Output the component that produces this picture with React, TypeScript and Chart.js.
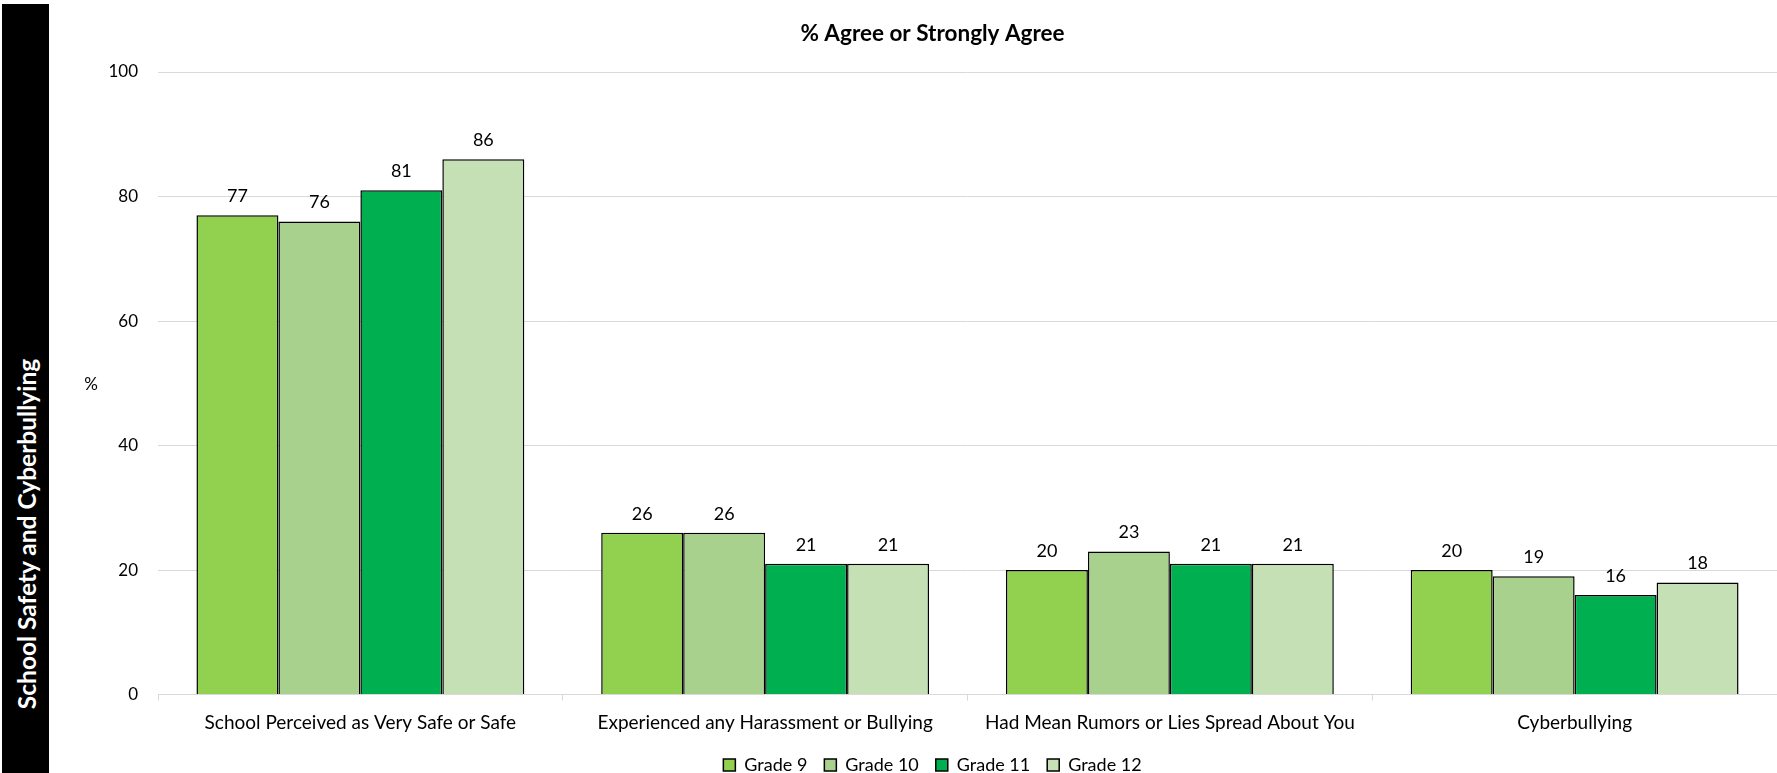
import React, { useEffect, useRef } from "react";
import { Chart, registerables } from "chart.js";

Chart.register(...registerables);

const categories = [
  "School Perceived as Very Safe or Safe",
  "Experienced any Harassment or Bullying",
  "Had Mean Rumors or Lies Spread About You",
  "Cyberbullying",
];
const seriesNames = ["Grade 9", "Grade 10", "Grade 11", "Grade 12"];
const grade9 = [77, 26, 20, 20];
const grade10 = [76, 26, 23, 19];
const grade11 = [81, 21, 21, 16];
const grade12 = [86, 21, 21, 18];
const seriesColors = ["#92D050", "#A9D18E", "#00B050", "#C5E0B4"];
const yTicks = [0, 20, 40, 60, 80, 100];
const chartTitle = "% Agree or Strongly Agree";
const yAxisLabel = "%";
const sideLabel = "School Safety and Cyberbullying";

const FONT = "Lato, 'Noto Sans', sans-serif";

const valueLabels = {
  id: "valueLabels",
  afterDatasetsDraw(chart: any) {
    const ctx = chart.ctx;
    ctx.save();
    ctx.font = `18px ${FONT}`;
    ctx.fillStyle = "#000";
    ctx.textAlign = "center";
    ctx.textBaseline = "middle";
    chart.data.datasets.forEach((ds: any, i: number) => {
      const meta = chart.getDatasetMeta(i);
      meta.data.forEach((bar: any, j: number) => {
        ctx.fillText(String(ds.data[j]), bar.x, bar.y - 19);
      });
    });
    ctx.restore();
  },
};

const pctLabel = {
  id: "pctLabel",
  afterDraw(chart: any) {
    const ctx = chart.ctx;
    const area = chart.chartArea;
    ctx.save();
    ctx.font = `17px ${FONT}`;
    ctx.fillStyle = "#000";
    ctx.textAlign = "center";
    ctx.textBaseline = "middle";
    ctx.fillText(yAxisLabel, area.left - 67, (area.top + area.bottom) / 2 + 1);
    ctx.restore();
  },
};

export default function App() {
  const ref = useRef<HTMLCanvasElement | null>(null);
  useEffect(() => {
    if (!ref.current) return;
    const series = [grade9, grade10, grade11, grade12];
    const chart = new Chart(ref.current, {
      type: "bar",
      data: {
        labels: categories,
        datasets: series.map((d, i) => ({
          label: seriesNames[i],
          data: d,
          backgroundColor: seriesColors[i],
          borderColor: "#000",
          borderWidth: 1.5,
          categoryPercentage: 0.81,
          barPercentage: 1,
        })),
      },
      options: {
        responsive: false,
        animation: false,
        devicePixelRatio: 1,
        layout: { padding: { left: 86, right: -2, top: 0, bottom: 0 } },
        plugins: {
          title: {
            display: true,
            text: chartTitle,
            color: "#000",
            font: { family: FONT, size: 22.5, weight: "bold" },
            padding: { top: 20, bottom: 25 },
          },
          legend: {
            position: "bottom",
            labels: {
              boxWidth: 12,
              boxHeight: 12,
              color: "#000",
              padding: 17,
              font: { family: FONT, size: 18 },
            },
          },
          tooltip: { enabled: false },
        },
        scales: {
          x: {
            offset: true,
            afterFit(scale: any) {
              scale.height = scale.height - 6.4;
            },
            grid: {
              display: true,
              drawOnChartArea: false,
              drawTicks: true,
              tickLength: 6,
              color: "#d9d9d9",
            },
            border: { display: true, color: "#d9d9d9", width: 1 },
            ticks: {
              color: "#000",
              padding: 11,
              maxRotation: 0,
              autoSkip: false,
              font: { family: FONT, size: 19 },
            },
          },
          y: {
            min: 0,
            max: 100,
            afterFit(scale: any) {
              scale.width = 72;
            },
            afterBuildTicks(scale: any) {
              scale.ticks = yTicks.map((v) => ({ value: v }));
            },
            grid: { color: "#d9d9d9", drawTicks: false },
            border: { display: false },
            ticks: {
              color: "#000",
              padding: 20,
              font: { family: FONT, size: 17 },
            },
          },
        },
      },
      plugins: [valueLabels, pctLabel],
    });
    return () => chart.destroy();
  }, []);

  return (
    <div style={{ position: "absolute", left: 0, top: 0, width: 1777, height: 773, background: "#fff", overflow: "hidden" }}>
      <div style={{ position: "absolute", left: 2, top: 4, width: 47, height: 769, background: "#000" }} />
      <div
        style={{
          position: "absolute",
          left: 26,
          top: 534,
          transform: "translate(-50%, -50%) rotate(-90deg)",
          whiteSpace: "nowrap",
          color: "#fff",
          fontFamily: FONT,
          fontWeight: "bold",
          fontSize: 24.5,
        }}
      >
        {sideLabel}
      </div>
      <canvas ref={ref} width={1777} height={784} style={{ position: "absolute", left: 0, top: 0 }} />
    </div>
  );
}
